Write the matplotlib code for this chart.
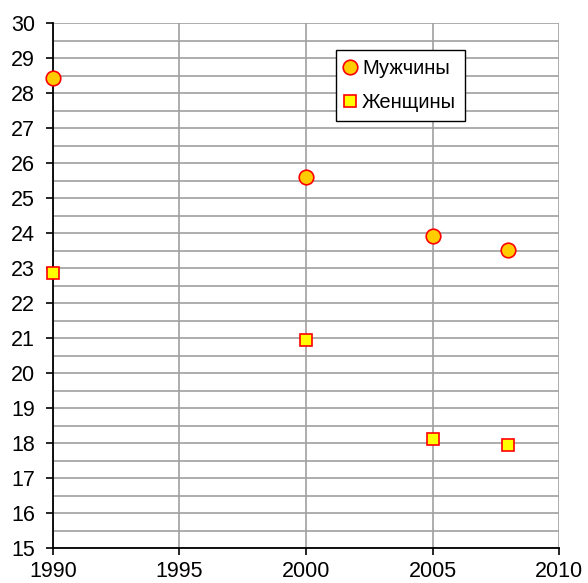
import matplotlib
matplotlib.use("Agg")
import matplotlib.pyplot as plt
from matplotlib.ticker import MultipleLocator

plt.rcParams["font.family"] = ["Liberation Sans", "DejaVu Sans"]

years = [1990, 2000, 2005, 2008]
men = [28.43, 25.6, 23.92, 23.52]
women = [22.85, 20.94, 18.11, 17.94]

fig = plt.figure(figsize=(5.88, 5.83), dpi=100)
ax = fig.add_axes([0.0901, 0.06, 0.8606, 0.9005])

ax.plot(years, men, "o", ms=10.5, mfc="#FFCC00", mec="#FF0000", mew=1.2,
        label="Мужчины", clip_on=False, zorder=5)
ax.plot(years, women, "s", ms=8, mfc="#FFFF00", mec="#FF0000", mew=1.2,
        label="Женщины", clip_on=False, zorder=5)

ax.set_xlim(1990, 2010); ax.set_ylim(15, 30)
ax.xaxis.set_major_locator(MultipleLocator(5))
ax.yaxis.set_major_locator(MultipleLocator(1))
ax.yaxis.set_minor_locator(MultipleLocator(0.5))
ax.grid(which="major", color="#a0a0a0", lw=1.2)
ax.grid(which="minor", axis="y", color="#a0a0a0", lw=1.2)
ax.set_axisbelow(True)
for s in ("top", "right"):
    ax.spines[s].set_visible(False)
for s in ("left", "bottom"):
    ax.spines[s].set_linewidth(1.3)
ax.tick_params(which="major", direction="out", length=5, width=1.2, labelsize=15.5)
ax.tick_params(axis="y", pad=8)
ax.tick_params(axis="x", pad=4)
ax.tick_params(which="minor", length=0)

leg = ax.legend(loc="upper left", bbox_to_anchor=(0.559, 0.949), fontsize=14.5,
                frameon=True, fancybox=False, edgecolor="black", framealpha=1,
                handlelength=0.55, handletextpad=0.3, borderpad=0.45, labelspacing=0.75,
                borderaxespad=0)
leg.get_frame().set_linewidth(1.0)

fig.savefig("out.png", dpi=100)
